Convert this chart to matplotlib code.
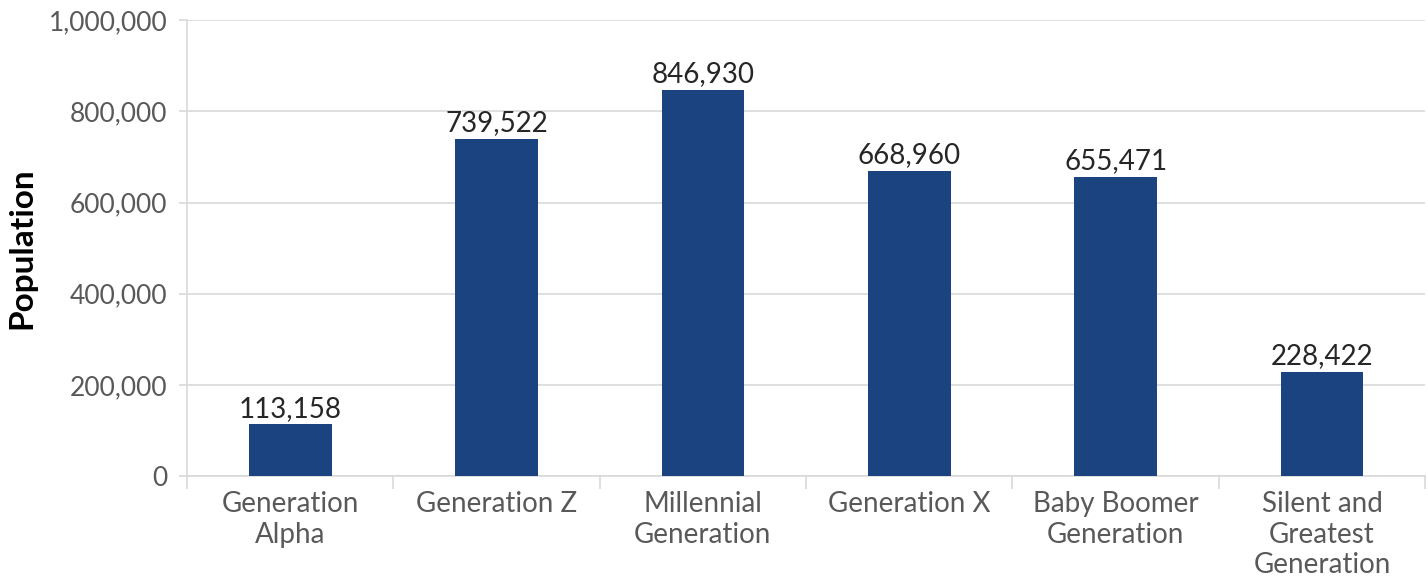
import numpy as np
import matplotlib.pyplot as plt
from matplotlib.ticker import FuncFormatter, FixedLocator

categories = ["Generation\nAlpha", "Generation Z", "Millennial\nGeneration",
              "Generation X", "Baby Boomer\nGeneration", "Silent and\nGreatest\nGeneration"]
population = [113158, 739522, 846930, 668960, 655471, 228422]

bar_color = "#1a4380"
grid_color = "#d9d9d9"
tick_color = "#595959"

plt.rcParams['font.family'] = ['Lato', 'DejaVu Sans']

fig = plt.figure(figsize=(14.28, 5.77), dpi=100)
ax = fig.add_axes([0.131, 0.175, 0.867, 0.79])

x = np.arange(len(categories))
bars = ax.bar(x, population, width=0.4, color=bar_color, zorder=3)

# value labels above each bar
for xi, v in zip(x, population):
    ax.text(xi, v + 6000, f"{v:,}", ha='center', va='bottom',
            fontsize=20, color='#262626', zorder=4)

ax.set_xlim(-0.5, len(categories) - 0.5)
ax.set_ylim(0, 1000000)
ax.set_yticks(np.arange(0, 1000001, 200000))
ax.yaxis.set_major_formatter(FuncFormatter(lambda v, p: f"{int(v):,}"))
ax.grid(axis='y', color=grid_color, linewidth=1.2, zorder=0)

ax.set_xticks(x)
ax.set_xticklabels(categories, fontsize=20, color=tick_color, linespacing=1.2)
ax.xaxis.set_minor_locator(FixedLocator(np.arange(-0.5, len(categories), 1.0)))
ax.tick_params(axis='x', which='major', length=0, pad=11)
ax.tick_params(axis='x', which='minor', length=9, color=grid_color, width=1.2)
ax.tick_params(axis='y', labelsize=19, labelcolor=tick_color, length=6,
               color=grid_color, width=1.2, pad=8)

for side in ['top', 'right']:
    ax.spines[side].set_visible(False)
ax.spines['left'].set_color(grid_color)
ax.spines['left'].set_linewidth(1.2)
ax.spines['bottom'].set_color(grid_color)
ax.spines['bottom'].set_linewidth(1.2)

ax.set_ylabel("Population", fontsize=24, fontweight='bold', color='black')
ax.yaxis.set_label_coords(-0.122, 0.5)

fig.savefig("out.png", dpi=100)
